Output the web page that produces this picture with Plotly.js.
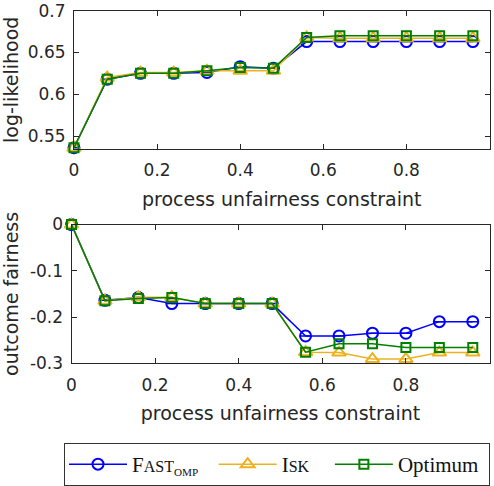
<!DOCTYPE html>
<html>
<head>
<meta charset="utf-8">
<script src="https://cdn.plot.ly/plotly-3.0.1.min.js"></script>
<style>html,body{margin:0;padding:0;background:#fff;}#chart{width:494px;height:486px;}</style>
</head>
<body>
<div id="chart"></div>
<script>
const constraint = [0, 0.08, 0.16, 0.24, 0.32, 0.40, 0.48, 0.56, 0.64, 0.72, 0.80, 0.88, 0.96];

const llFast    = [0.536, 0.618, 0.625, 0.625, 0.626, 0.633, 0.631, 0.663, 0.663, 0.663, 0.663, 0.663, 0.663];
const llIsk     = [0.536, 0.620, 0.626, 0.626, 0.628, 0.628, 0.628, 0.668, 0.667, 0.667, 0.667, 0.667, 0.667];
const llOptimum = [0.536, 0.618, 0.625, 0.625, 0.628, 0.632, 0.631, 0.668, 0.670, 0.670, 0.670, 0.670, 0.670];

const ofFast    = [0, -0.164, -0.158, -0.171, -0.171, -0.171, -0.171, -0.241, -0.241, -0.235, -0.235, -0.210, -0.210];
const ofIsk     = [0, -0.165, -0.157, -0.157, -0.171, -0.171, -0.171, -0.276, -0.277, -0.291, -0.291, -0.277, -0.277];
const ofOptimum = [0, -0.165, -0.160, -0.158, -0.171, -0.171, -0.171, -0.276, -0.258, -0.258, -0.266, -0.266, -0.266];

const xTickVals = [0, 0.2, 0.4, 0.6, 0.8, 1];
const llTickVals = [0.55, 0.6, 0.65, 0.7];
const ofTickVals = [0, -0.1, -0.2, -0.3];
const ofTickText = ['0', '-0.1', '-0.2', '-0.3'];

const names = {
  fast: 'F<span style="font-size:16px">AST<sub>OMP</sub></span>\u00a0\u00a0',
  isk: 'I<span style="font-size:16px">SK</span>\u00a0\u00a0\u00a0',
  opt: 'Optimum\u00a0'
};

const BLUE = '#0000FF', ORANGE = '#EDB120', GREEN = '#008000';

function mk(x, y, xa, ya, name, color, symbol, size, showleg, err) {
  const t = {
    x: x, y: y, xaxis: xa, yaxis: ya, name: name, type: 'scatter', mode: 'lines+markers',
    line: {color: color, width: 1.5},
    marker: {symbol: symbol, size: size, color: color, line: {color: color, width: 2}},
    showlegend: showleg, cliponaxis: false, legendgroup: name
  };
  if (err) t.error_y = {type: 'constant', value: 0, width: 6, thickness: 1.5, color: color};
  return t;
}

const data = [
  mk(constraint, llFast, 'x', 'y', names.fast, BLUE, 'circle-open', 11, true, true),
  mk(constraint, llIsk, 'x', 'y', names.isk, ORANGE, 'triangle-up-open', 12, true, false),
  mk(constraint, llOptimum, 'x', 'y', names.opt, GREEN, 'square-open', 9, true, false),
  mk(constraint, ofFast, 'x2', 'y2', names.fast, BLUE, 'circle-open', 11, false, true),
  mk(constraint, ofIsk, 'x2', 'y2', names.isk, ORANGE, 'triangle-up-open', 12, false, false),
  mk(constraint, ofOptimum, 'x2', 'y2', names.opt, GREEN, 'square-open', 9, false, false)
];

const W = 494, H = 486;
const axCol = '#262626';
const tickFont = {family: 'DejaVu Sans', size: 17, color: axCol};
const titleFont = {family: 'DejaVu Sans', size: 19, color: axCol};

function xax(left, anchor) {
  return {
    domain: [left / W, 489.5 / W], anchor: anchor, range: [0, 1],
    tickvals: xTickVals, ticks: 'inside', ticklen: 5, tickcolor: axCol, tickwidth: 1,
    showline: true, linecolor: axCol, linewidth: 1, mirror: 'ticks', showgrid: false, zeroline: false,
    tickfont: tickFont, ticklabelstandoff: 6,
    title: {text: 'process unfairness constraint', font: titleFont, standoff: 13},
    automargin: false, fixedrange: true
  };
}
function yax(top, bottom, anchor, range, tv, tt, title) {
  const a = {
    domain: [(H - bottom) / H, (H - top) / H], anchor: anchor, range: range,
    tickvals: tv, ticks: 'inside', ticklen: 5, tickcolor: axCol, tickwidth: 1,
    showline: true, linecolor: axCol, linewidth: 1, mirror: 'ticks', showgrid: false, zeroline: false,
    tickfont: tickFont, ticklabelstandoff: 4,
    title: {text: title, font: titleFont, standoff: 6},
    automargin: false, fixedrange: true
  };
  if (tt) a.ticktext = tt;
  return a;
}

const layout = {
  width: W, height: H,
  margin: {l: 0, r: 0, t: 0, b: 0},
  paper_bgcolor: '#fff', plot_bgcolor: '#fff',
  showlegend: true,
  xaxis: xax(74, 'y'),
  yaxis: yax(10.7, 149.3, 'x', [0.5345, 0.7], llTickVals, null, 'log-likelihood'),
  xaxis2: xax(71.5, 'y2'),
  yaxis2: yax(225, 364, 'x2', [-0.3, 0], ofTickVals, ofTickText, 'outcome fairness'),
  legend: {
    orientation: 'h', x: 64 / W, xanchor: 'left', y: (H - 444) / H, yanchor: 'top',
    bordercolor: '#333', borderwidth: 1, bgcolor: '#fff',
    font: {family: 'Liberation Serif', size: 21, color: '#111'},
    itemwidth: 58, tracegroupgap: 0
  }
};

Plotly.newPlot('chart', data, layout, {displayModeBar: false, staticPlot: true});
</script>
</body>
</html>
